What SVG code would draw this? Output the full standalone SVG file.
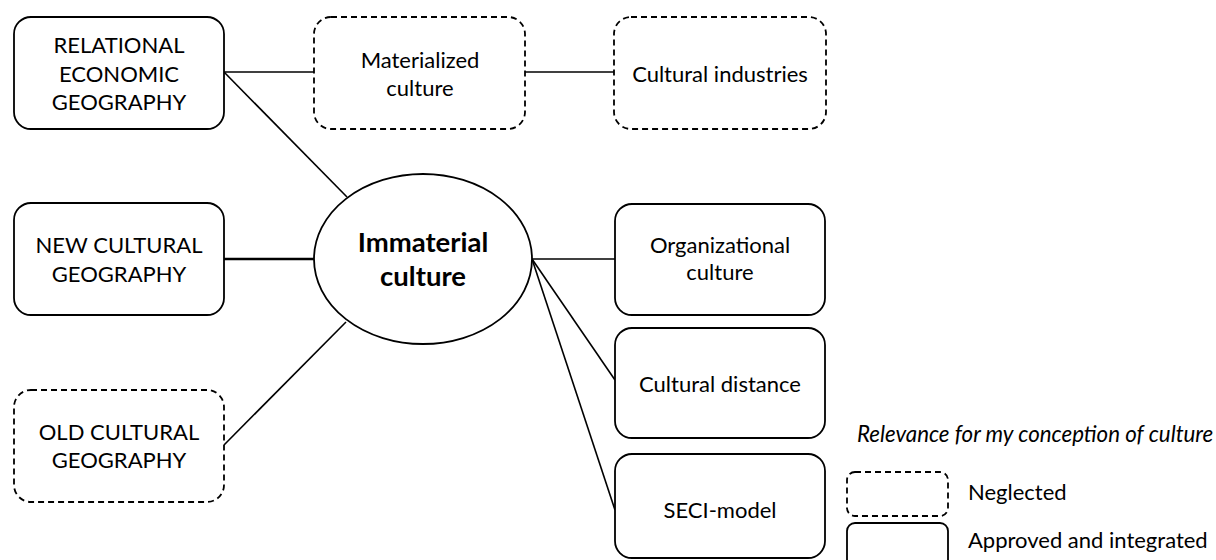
<svg xmlns="http://www.w3.org/2000/svg" width="1216" height="560" viewBox="0 0 1216 560">
<style>
.box{fill:#fff;stroke:#000;stroke-width:1.8}
.dash{stroke-dasharray:6 4}
.t{font-family:Lato,"Open Sans",sans-serif;font-size:22px;fill:#000;text-anchor:middle}
.b{font-weight:bold;font-size:27.5px}
.l{text-anchor:start}
.i{font-style:italic;font-size:22.3px}
.c{stroke:#000;stroke-width:1.6;fill:none}
</style>
<rect width="1216" height="560" fill="#fff"/>
<g id="connectors">
<line class="c" x1="224" y1="72" x2="314" y2="72"/>
<line class="c" x1="525" y1="72" x2="614" y2="72"/>
<line class="c" x1="224" y1="72" x2="347" y2="197"/>
<line class="c" x1="224" y1="259" x2="314" y2="259" style="stroke-width:2.6"/>
<line class="c" x1="224" y1="445" x2="346" y2="322"/>
<line class="c" x1="532" y1="259" x2="615" y2="259"/>
<line class="c" x1="532" y1="259" x2="615" y2="380"/>
<line class="c" x1="532" y1="259" x2="615" y2="510"/>
</g>
<g id="relational">
<rect class="box" x="14" y="17" width="210" height="112" rx="17"/>
<text class="t" x="119" y="53">RELATIONAL</text>
<text class="t" x="119" y="82">ECONOMIC</text>
<text class="t" x="119" y="110">GEOGRAPHY</text>
</g>
<g id="materialized">
<rect class="box dash" x="314" y="17" width="211" height="112" rx="17"/>
<text class="t" x="420" y="68">Materialized</text>
<text class="t" x="420" y="96">culture</text>
</g>
<g id="industries">
<rect class="box dash" x="614" y="17" width="212" height="112" rx="17"/>
<text class="t" x="720" y="82">Cultural industries</text>
</g>
<g id="newcult">
<rect class="box" x="14" y="203" width="210" height="112" rx="17"/>
<text class="t" x="119" y="253">NEW CULTURAL</text>
<text class="t" x="119" y="282">GEOGRAPHY</text>
</g>
<g id="oldcult">
<rect class="box dash" x="14" y="390" width="210" height="112" rx="17"/>
<text class="t" x="119" y="440">OLD CULTURAL</text>
<text class="t" x="119" y="468">GEOGRAPHY</text>
</g>
<g id="immaterial">
<ellipse class="box" cx="423" cy="259" rx="109" ry="85"/>
<text class="t b" x="423" y="252">Immaterial</text>
<text class="t b" x="423" y="286">culture</text>
</g>
<g id="organizational">
<rect class="box" x="615" y="204" width="210" height="111" rx="17"/>
<text class="t" x="720" y="253">Organizational</text>
<text class="t" x="720" y="280">culture</text>
</g>
<g id="distance">
<rect class="box" x="615" y="328" width="210" height="110" rx="17"/>
<text class="t" x="720" y="392">Cultural distance</text>
</g>
<g id="seci">
<rect class="box" x="615" y="454" width="210" height="104" rx="17"/>
<text class="t" x="720" y="518">SECI-model</text>
</g>
<g id="legend">
<text class="t l i" x="857" y="442">Relevance for my conception of culture</text>
<rect class="box dash" x="847" y="472" width="101" height="44" rx="8"/>
<text class="t l" x="968" y="500">Neglected</text>
<rect class="box" x="847" y="523" width="101" height="50" rx="8"/>
<text class="t l" x="968" y="548">Approved and integrated</text>
</g>
</svg>
